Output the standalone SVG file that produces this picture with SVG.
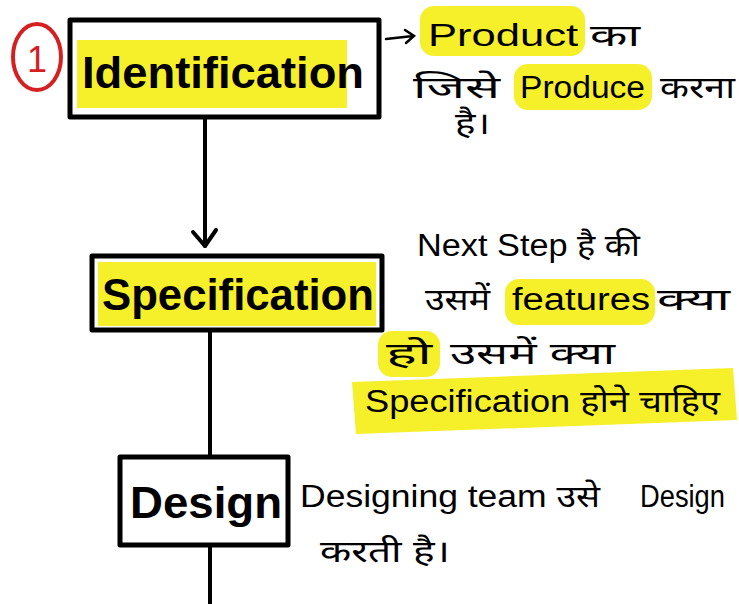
<svg xmlns="http://www.w3.org/2000/svg" width="739" height="604" viewBox="0 0 739 604">
<style>
.box{fill:none;stroke:#000;stroke-width:5;stroke-linejoin:round}
.hl{fill:#f5f02a}
.line{fill:none;stroke:#000;stroke-width:4;stroke-linecap:round}
.t{font-family:"Liberation Sans","Noto Sans",sans-serif;fill:#000}
.big{font-size:44px;font-weight:bold}
.note{font-size:31px}
</style>
<rect width="739" height="604" fill="#fff"/>
<g id="connectors">
<line class="line" x1="205" y1="118" x2="205" y2="246"/>
<path d="M193 232 L205 246 L216 230" fill="none" stroke="#000" stroke-width="4" stroke-linecap="round" stroke-linejoin="round"/>
<line class="line" x1="210" y1="331" x2="210" y2="456"/>
<line class="line" x1="210" y1="546" x2="210" y2="604"/>
<path d="M386 39 L413 36 M405 30 L414 36 L406 43" fill="none" stroke="#000" stroke-width="2.5" stroke-linecap="round"/>
</g>
<g id="marker-1">
<ellipse cx="37" cy="57" rx="24" ry="33" fill="none" stroke="#d42020" stroke-width="4"/>
<text class="t" x="37" y="72" font-size="36" text-anchor="middle" style="fill:#d42020">1</text>
</g>
<g id="identification">
<rect class="hl" x="77" y="40" width="270" height="68"/>
<rect class="box" x="70" y="20" width="309" height="97"/>
<text class="t big" x="82" y="88" textLength="282" lengthAdjust="spacingAndGlyphs">Identification</text>
</g>
<g id="identification-note">
<rect class="hl" x="420" y="6" width="165" height="50" rx="14"/>
<rect class="hl" x="514" y="64" width="138" height="46" rx="14"/>
<text class="t note" x="428" y="46" textLength="150" lengthAdjust="spacingAndGlyphs">Product</text>
<text class="t note" x="590" y="46" textLength="50" lengthAdjust="spacingAndGlyphs">का</text>
<text class="t note" x="413" y="98" textLength="87" lengthAdjust="spacingAndGlyphs">जिसे</text>
<text class="t note" x="520" y="98" textLength="125" lengthAdjust="spacingAndGlyphs">Produce</text>
<text class="t note" x="660" y="98" textLength="75" lengthAdjust="spacingAndGlyphs">करना</text>
<text class="t note" x="455" y="134" textLength="35" lengthAdjust="spacingAndGlyphs">है।</text>
</g>
<g id="specification">
<rect class="hl" x="98" y="262" width="278" height="64"/>
<rect class="box" x="92" y="256" width="290" height="74"/>
<text class="t big" x="102" y="310" textLength="272" lengthAdjust="spacingAndGlyphs">Specification</text>
</g>
<g id="specification-note">
<rect class="hl" x="505" y="279" width="150" height="46" rx="14"/>
<rect class="hl" x="378" y="331" width="62" height="46" rx="14"/>
<path class="hl" d="M352 382 L733 368 L737 420 L356 434 Z"/>
<text class="t note" x="417" y="256" textLength="223" lengthAdjust="spacingAndGlyphs">Next Step है की</text>
<text class="t note" x="425" y="310" textLength="65" lengthAdjust="spacingAndGlyphs">उसमें</text>
<text class="t note" x="512" y="310" textLength="138" lengthAdjust="spacingAndGlyphs">features</text>
<text class="t note" x="657" y="310" textLength="73" lengthAdjust="spacingAndGlyphs">क्या</text>
<text class="t note" x="386" y="364" textLength="46" lengthAdjust="spacingAndGlyphs">हो</text>
<text class="t note" x="450" y="364" textLength="165" lengthAdjust="spacingAndGlyphs">उसमें क्या</text>
<text class="t note" x="365" y="412" textLength="355" lengthAdjust="spacingAndGlyphs">Specification होने चाहिए</text>
</g>
<g id="design">
<rect class="box" x="120" y="457" width="168" height="88"/>
<text class="t big" x="130" y="518" textLength="152" lengthAdjust="spacingAndGlyphs">Design</text>
</g>
<g id="design-note">
<text class="t note" x="300" y="507" textLength="300" lengthAdjust="spacingAndGlyphs">Designing team उसे</text>
<text class="t note" x="640" y="507" textLength="85" lengthAdjust="spacingAndGlyphs">Design</text>
<text class="t note" x="320" y="562" textLength="130" lengthAdjust="spacingAndGlyphs">करती है।</text>
</g>
</svg>
